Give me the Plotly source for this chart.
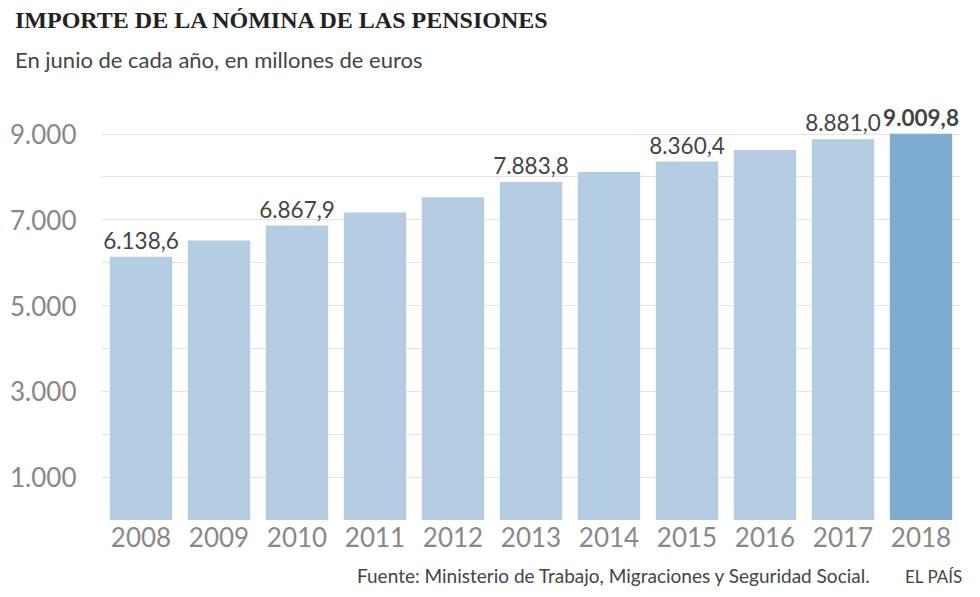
import plotly.graph_objects as go

years = ["2008", "2009", "2010", "2011", "2012", "2013", "2014", "2015", "2016", "2017", "2018"]
values = [6138.6, 6516, 6867.9, 7174, 7526, 7883.8, 8116, 8360.4, 8629, 8881.0, 9009.8]
labels = ["6.138,6", "", "6.867,9", "", "", "7.883,8", "", "8.360,4", "", "8.881,0", "<b>9.009,8</b>"]
tick_vals = [1000, 3000, 5000, 7000, 9000]
tick_text = ["1.000", "3.000", "5.000", "7.000", "9.000"]

colors = ["#b4cde3"] * 10 + ["#7eabd0"]

fig = go.Figure(go.Bar(
    x=years, y=values, marker_color=colors, marker_line_width=0,
    text=labels, textposition="outside", cliponaxis=False, constraintext="none",
    textfont=dict(size=22.5, color="#444", family="Lato"),
))

for v, t in zip(tick_vals, tick_text):
    fig.add_annotation(x=-0.028, xref="paper", y=v, yref="y", text=t, showarrow=False,
                       xanchor="right", font=dict(size=26, color="#888", family="Lato"))

fig.add_annotation(x=-0.104, y=1.236, xref="paper", yref="paper", xanchor="left", yanchor="top",
                   text="<b>IMPORTE DE LA NÓMINA DE LAS PENSIONES</b>", showarrow=False,
                   font=dict(size=24, color="#222", family="Liberation Serif"))
fig.add_annotation(x=-0.104, y=1.142, xref="paper", yref="paper", xanchor="left", yanchor="top",
                   text="En junio de cada año, en millones de euros", showarrow=False,
                   font=dict(size=22, color="#444", family="Lato"))
fig.add_annotation(x=0.897, y=-0.165, xref="paper", yref="paper", xanchor="right", yanchor="bottom",
                   text="Fuente: Ministerio de Trabajo, Migraciones y Seguridad Social.", showarrow=False,
                   font=dict(size=19, color="#444", family="Lato"))
fig.add_annotation(x=1.005, y=-0.165, xref="paper", yref="paper", xanchor="right", yanchor="bottom",
                   text="EL PAÍS", showarrow=False,
                   font=dict(size=17, color="#444", family="Lato"))

fig.update_layout(
    width=980, height=597, paper_bgcolor="white", plot_bgcolor="white",
    margin=dict(l=94, r=28, t=95, b=85),
    bargap=0.2, showlegend=False,
    xaxis=dict(showgrid=False, tickfont=dict(size=26, color="#888", family="Lato"), ticks=""),
    yaxis=dict(range=[0, 9725], dtick=1000, showticklabels=False, gridcolor="#e3e3e3",
               zeroline=False),
)

fig.write_html("out.html")
